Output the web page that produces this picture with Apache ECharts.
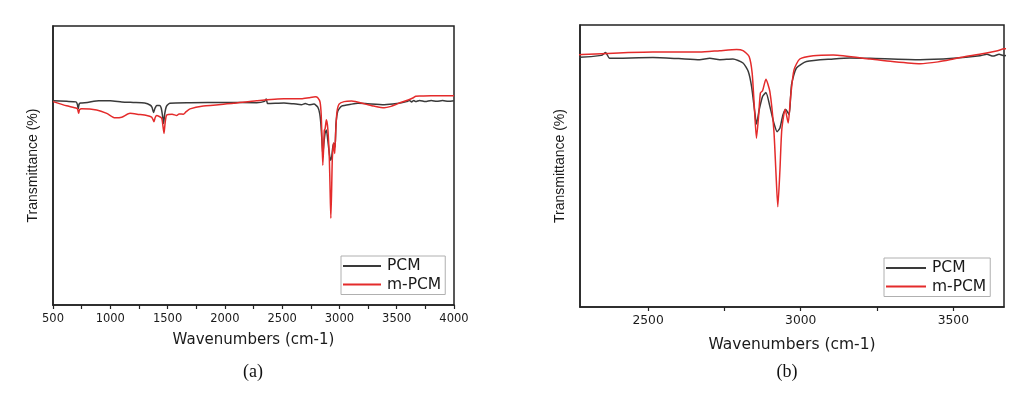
<!DOCTYPE html>
<html>
<head>
<meta charset="utf-8">
<script src="https://cdn.jsdelivr.net/npm/echarts@6/dist/echarts.min.js"></script>
<style>
html,body{margin:0;padding:0;background:#fff;}
#chart{width:1032px;height:398px;}
</style>
</head>
<body>
<div id="chart"></div>
<script>
// ---- data ----
const seriesNames = ['PCM', 'm-PCM'];
const pcmWn = [500, 620, 700, 712, 720, 728, 740, 800, 900, 1000, 1100, 1200, 1300, 1350, 1365, 1377, 1390, 1405, 1430, 1445, 1457, 1465, 1475, 1490, 1520, 1700, 2000, 2277, 2347, 2361, 2374, 2516, 2600, 2669, 2702, 2735, 2778, 2811, 2828, 2839, 2850, 2855, 2864, 2875, 2886, 2899, 2912, 2923, 2932, 2942, 2951, 2962, 2970, 2986, 3019, 3107, 3161, 3227, 3391, 3500, 3587, 3610, 3630, 3650, 3666, 3700, 3750, 3800, 3850, 3900, 3950, 4000];
const pcmT  = [73.2, 73.0, 72.8, 72.0, 70.3, 72.0, 72.4, 72.6, 73.2, 73.2, 72.8, 72.6, 72.4, 71.6, 70.8, 69.0, 70.5, 71.5, 71.5, 70.5, 67.5, 65.1, 68.5, 71.2, 72.3, 72.5, 72.6, 72.5, 73.0, 73.8, 72.2, 72.4, 72.1, 71.8, 72.2, 71.8, 72.0, 70.9, 68.6, 64.4, 57.0, 54.0, 57.9, 61.6, 62.7, 58.9, 54.3, 51.9, 52.9, 56.6, 58.0, 56.6, 64.9, 69.5, 71.3, 72.0, 72.3, 72.2, 71.8, 72.2, 72.9, 73.3, 72.8, 73.3, 72.9, 73.3, 72.9, 73.3, 73.0, 73.3, 73.0, 73.2];
const mpcmWn = [500, 619, 707, 716, 724, 732, 750, 881, 969, 1041, 1100, 1172, 1250, 1318, 1361, 1372, 1381, 1392, 1405, 1448, 1460, 1469, 1478, 1492, 1540, 1580, 1600, 1638, 1660, 1696, 1812, 2074, 2277, 2516, 2669, 2735, 2790, 2811, 2831, 2841, 2848, 2855, 2862, 2868, 2875, 2886, 2899, 2912, 2919, 2925, 2932, 2938, 2949, 2959, 2967, 2978, 2997, 3041, 3107, 3227, 3300, 3391, 3450, 3500, 3529, 3600, 3645, 3666, 3703, 3800, 4000];
const mpcmT  = [72.9, 71.4, 70.5, 70.0, 68.7, 70.0, 70.3, 69.9, 68.7, 67.1, 67.3, 68.7, 68.3, 67.9, 67.3, 66.5, 65.7, 67.2, 67.9, 67.0, 64.0, 61.5, 65.0, 68.1, 68.4, 67.9, 68.5, 68.4, 69.2, 70.3, 71.3, 72.3, 73.2, 73.9, 73.9, 74.3, 74.6, 74.3, 72.7, 68.1, 58.9, 50.1, 56.1, 62.6, 63.2, 66.4, 63.0, 52.4, 40.4, 31.1, 41.3, 52.4, 58.1, 54.3, 61.6, 69.0, 72.0, 72.9, 73.1, 72.0, 71.3, 70.7, 71.2, 72.0, 72.5, 73.5, 74.3, 74.8, 74.9, 75.0, 75.0];
const ticksA  = [500, 750, 1000, 1250, 1500, 1750, 2000, 2250, 2500, 2750, 3000, 3250, 3500, 3750, 4000];
const labelsA = [500, 1000, 1500, 2000, 2500, 3000, 3500, 4000];
const ticksB  = [2500, 2750, 3000, 3250, 3500];
const labelsB = [2500, 3000, 3500];
const xRangeA = [500, 4000];
const xRangeB = [2277, 3666];
const yRangeA = [0, 100];
const yRangeB = [3.4, 81.4];
const xTitle = 'Wavenumbers (cm-1)';
const yTitle = 'Transmittance (%)';
const panelTags = ['(a)', '(b)'];

// ---- chart ----
const BLACK = '#3a3a3a', RED = '#e42b2b', TXT = '#1a1a1a';
const pairs = (xs, ys) => xs.map((x, i) => [x, ys[i]]);
const pcm = pairs(pcmWn, pcmT);
const mpcm = pairs(mpcmWn, mpcmT);

function xAxisCfg(gi, range, ticks, labels, fs, nameFs, gap) {
  return {
    type: 'value', gridIndex: gi, min: range[0], max: range[1],
    name: xTitle, nameLocation: 'middle', nameGap: gap,
    nameTextStyle: { fontFamily: 'DejaVu Sans', fontSize: nameFs, color: TXT },
    axisLine: { show: true, lineStyle: { color: '#222', width: 1.5 } },
    axisTick: { show: true, inside: false, length: 4, customValues: ticks, lineStyle: { color: '#222', width: 1.2 } },
    axisLabel: { show: true, margin: 8, customValues: labels, formatter: v => String(v),
                 fontFamily: 'DejaVu Sans', fontSize: fs, color: TXT },
    splitLine: { show: false }
  };
}
function yAxisCfg(gi, range) {
  return {
    type: 'value', gridIndex: gi, min: range[0], max: range[1],
    name: yTitle, nameLocation: 'middle', nameGap: 13,
    nameTextStyle: { fontFamily: 'Liberation Sans', fontSize: 14, color: TXT },
    axisLine: { show: true, lineStyle: { color: '#222', width: 1.5 } },
    axisTick: { show: false }, axisLabel: { show: false }, splitLine: { show: false }
  };
}
function legendCfg(left, top, iw, fs) {
  return {
    left: left, top: top, orient: 'vertical', icon: 'rect', itemWidth: iw, itemHeight: 2,
    itemGap: 2.5, padding: [2, 4, 2, 2], borderColor: '#b0b0b0', borderWidth: 1,
    textStyle: { fontFamily: 'DejaVu Sans', fontSize: fs, color: TXT, padding: [0, 0, 0, 1] },
    data: seriesNames
  };
}
function lineSeries(name, data, color, xi) {
  return {
    name: name, type: 'line', xAxisIndex: xi, yAxisIndex: xi, data: data,
    showSymbol: false, symbol: 'none', smooth: 0.2, clip: true,
    lineStyle: { color: color, width: 1.5 }, itemStyle: { color: color }
  };
}

const chart = echarts.init(document.getElementById('chart'), null, { renderer: 'canvas' });
chart.setOption({
  animation: false,
  backgroundColor: '#fff',
  title: [
    { text: panelTags[0], left: 248, top: 358, textAlign: 'center', textStyle: { fontFamily: 'Liberation Serif', fontSize: 18, fontWeight: 'normal', color: '#111' } },
    { text: panelTags[1], left: 782, top: 358, textAlign: 'center', textStyle: { fontFamily: 'Liberation Serif', fontSize: 18, fontWeight: 'normal', color: '#111' } }
  ],
  grid: [
    { left: 53, top: 26, width: 401, height: 279, show: true, borderColor: '#222', borderWidth: 1.5, backgroundColor: 'transparent' },
    { left: 580, top: 25, width: 424, height: 282, show: true, borderColor: '#222', borderWidth: 1.5, backgroundColor: 'transparent' }
  ],
  xAxis: [
    xAxisCfg(0, xRangeA, ticksA, labelsA, 11.5, 15, 28),
    xAxisCfg(1, xRangeB, ticksB, labelsB, 12.3, 15.5, 30)
  ],
  yAxis: [ yAxisCfg(0, yRangeA), yAxisCfg(1, yRangeB) ],
  legend: [ legendCfg(341, 256, 38, 15.5), legendCfg(884, 258, 40, 15.5) ],
  series: [
    lineSeries(seriesNames[0], pcm, BLACK, 0),
    lineSeries(seriesNames[1], mpcm, RED, 0),
    lineSeries(seriesNames[0], pcm, BLACK, 1),
    lineSeries(seriesNames[1], mpcm, RED, 1)
  ]
});
</script>
</body>
</html>
